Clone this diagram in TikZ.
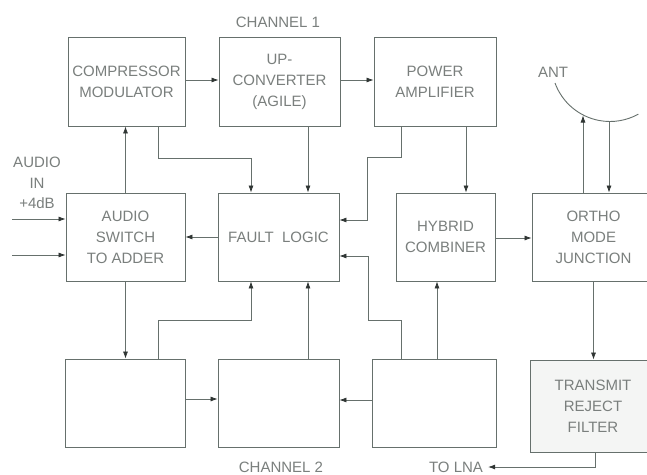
\documentclass[tikz,border=0pt]{standalone}
\usepackage{fontspec}
\setmainfont{Liberation Sans}
\usetikzlibrary{arrows.meta,calc}
\definecolor{ln}{HTML}{66706C}
\definecolor{tx}{HTML}{7A7F7D}
\definecolor{tip}{HTML}{2F3533}
\definecolor{tfill}{HTML}{F4F5F4}
\begin{document}
\begin{tikzpicture}[x=1pt,y=-1pt,
  box/.style={draw=ln,line width=0.9pt,inner sep=0pt,align=center,text=tx,
    font=\fontsize{15}{21}\selectfont},
  lbl/.style={text=tx,inner sep=0pt,align=center,font=\fontsize{15}{20.5}\selectfont},
  arr/.style={draw=ln,line width=0.7pt,-{Latex[length=7pt,width=5pt,fill=tip,color=tip]}},
  con/.style={draw=ln,line width=0.7pt}]
\clip (0,0) rectangle (647,474);
\fill[white] (0,0) rectangle (647,474);
% boxes
\node[box,minimum width=117pt,minimum height=89pt] (cm) at (126.5,81.5) {COMPRESSOR\\MODULATOR};
\node[box,minimum width=121pt,minimum height=89pt] (up) at (279.5,81.5) {UP-\\CONVERTER\\(AGILE)};
\node[box,minimum width=122pt,minimum height=89pt] (pa) at (435,81.5) {POWER\\AMPLIFIER};
\node[box,minimum width=119pt,minimum height=88pt] (as) at (125.5,237) {AUDIO\\SWITCH\\TO ADDER};
\node[box,minimum width=121pt,minimum height=88pt] (fl) at (278.5,237) {FAULT\ \ LOGIC};
\node[box,minimum width=99pt,minimum height=88pt] (hc) at (445.5,237) {HYBRID\\COMBINER};
\node[box,minimum width=123pt,minimum height=88pt] (om) at (593.5,237) {ORTHO\\MODE\\JUNCTION};
\node[box,minimum width=120pt,minimum height=88pt] (b1) at (125,403) {};
\node[box,minimum width=121pt,minimum height=88pt] (b2) at (278.5,403) {};
\node[box,minimum width=124pt,minimum height=88pt] (b3) at (434,403) {};
\node[box,fill=tfill,minimum width=126pt,minimum height=92pt] (tf) at (593,406) {TRANSMIT\\REJECT\\FILTER};
% labels
\node[lbl] (ch1) at (278,22) {CHANNEL 1};
\node[lbl] (ch2) at (281,467) {CHANNEL 2};
\node[lbl] (ain) at (37,183) {AUDIO\\IN\\+4dB};
\node[lbl] (ant) at (553,72) {ANT};
\node[lbl] (lna) at (456,467) {TO LNA};
% antenna arc
\draw[con,line width=0.9pt] (555,83) arc[start angle=160, end angle=61, radius=58.5];
\coordinate (ant1) at (583,115.5);
\coordinate (ant2) at (609,121.5);
\coordinate (in1) at (12,219);
\coordinate (in2) at (12,255);
% connectors
\draw[arr] ([yshift=1.5pt]cm.east) -- ([yshift=1.5pt]up.west);
\draw[arr] ([yshift=1.5pt]up.east) -- ([yshift=1.5pt]pa.west);
\draw[arr] ([xshift=31.5pt]cm.south) -- ++(0,32) -| ([xshift=-27.5pt]fl.north);
\draw[arr] ([xshift=28.5pt]up.south) -- ([xshift=28.5pt]up.south |- fl.north);
\draw[arr] (as.north) -- (as.north |- cm.south);
\draw[arr] (in1) -- (in1 -| as.west);
\draw[arr] (in2) -- (in2 -| as.west);
\draw[arr] (fl.west) -- (fl.west -| as.east);
\draw[arr] ([xshift=-34pt]pa.south) -- ++(0,31) -- ++(-34,0) |- ([yshift=17pt]fl.east);
\draw[arr] ([xshift=31pt]pa.south) -- ([xshift=31pt]pa.south |- hc.north);
\draw[arr] ([yshift=-1pt]hc.east) -- ([yshift=-1pt]hc.east -| om.west);
\draw[arr] (ant1 |- om.north) -- (ant1);
\draw[arr] (ant2) -- (ant2 |- om.north);
\draw[arr] (as.south) -- (as.south |- b1.north);
\draw[arr] ([xshift=33pt]b1.north) -- ++(0,-38) -| ([xshift=-27.5pt]fl.south);
\draw[arr] ([xshift=29.5pt]b2.north) -- ([xshift=29.5pt]b2.north |- fl.south);
\draw[arr] ([yshift=4pt]b1.east) -- ([yshift=4pt]b2.west);
\draw[arr] ([yshift=3pt]b3.west) -- ([yshift=3pt]b2.east);
\draw[arr] ([xshift=-33pt]b3.north) -- ++(0,-38) -- ++(-33,0) |- ([yshift=-19pt]fl.east);
\draw[arr] ([xshift=3pt]b3.north) -- ([xshift=3pt]b3.north |- hc.south);
\draw[arr] (om.south) -- (om.south |- tf.north);
\draw[arr] ([xshift=2pt]tf.south) |- ([xshift=5pt]lna.east);
\end{tikzpicture}
\end{document}
